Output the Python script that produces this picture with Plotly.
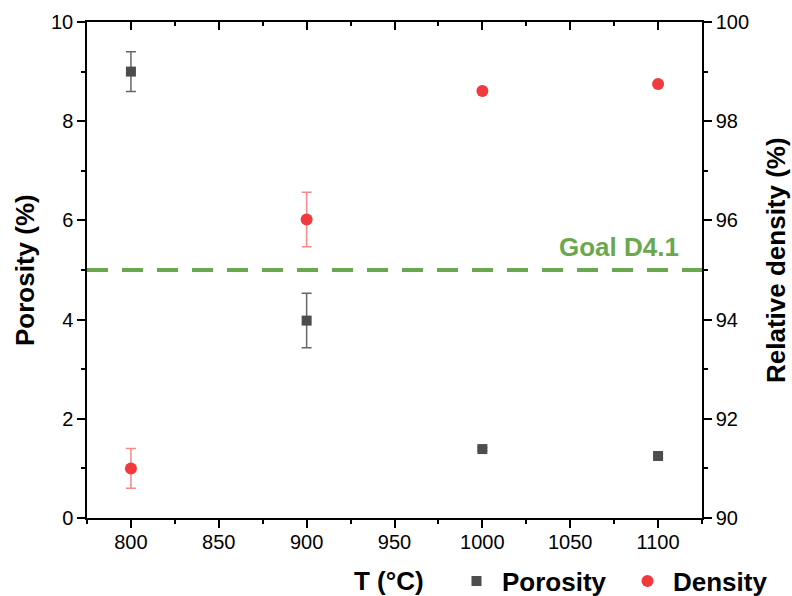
import plotly.graph_objects as go

# ---- data ----
temps = [800, 900, 1000, 1100]
porosity = [9.0, 3.98, 1.39, 1.25]
porosity_err = [0.4, 0.55, 0.03, 0.03]
density = [91.0, 96.02, 98.61, 98.75]
density_err = [0.4, 0.55, 0.03, 0.03]
goal_porosity = 5.0
goal_label = "Goal D4.1"

FONT = "Arial, Liberation Sans, sans-serif"
GREEN = "#6aa84f"
W, H = 792, 596

fig = go.Figure()

fig.add_trace(go.Scatter(
    x=temps, y=porosity, name="Porosity", mode="markers",
    marker=dict(symbol="square", size=10, color="#4d4d4d"),
    error_y=dict(type="data", array=porosity_err, color="#666666", thickness=1.5, width=5),
    yaxis="y", xaxis="x", legend="legend",
))
fig.add_trace(go.Scatter(
    x=temps, y=density, name="Density", mode="markers",
    marker=dict(symbol="circle", size=12, color="#f03a3d"),
    error_y=dict(type="data", array=density_err, color="#f58a8a", thickness=1.5, width=5),
    yaxis="y2", xaxis="x", legend="legend2",
))

axis_common = dict(showline=True, linecolor="black", linewidth=1.5, showgrid=False,
                   zeroline=False, tickcolor="black", tickwidth=1.5, automargin=False,
                   tickfont=dict(family=FONT, size=20, color="black"))

legend_common = dict(orientation="h", xref="container", yref="container", xanchor="left",
                     yanchor="middle", y=(H - 581) / H, itemwidth=41,
                     font=dict(family=FONT, size=26, color="black", weight="bold"),
                     bgcolor="rgba(0,0,0,0)", borderwidth=0)

fig.update_layout(
    width=W, height=H,
    margin=dict(l=87, r=90, t=22, b=78),
    paper_bgcolor="white", plot_bgcolor="white",
    font=dict(family=FONT, color="black"),
    xaxis=dict(range=[775, 1125], tickvals=[800, 850, 900, 950, 1000, 1050, 1100],
               ticks="outside", ticklen=8, ticklabelstandoff=-3,
               minor=dict(dtick=25, tick0=775, ticks="outside", ticklen=4, tickcolor="black", tickwidth=1.5),
               **axis_common),
    xaxis2=dict(range=[775, 1125], overlaying="x", side="top", showticklabels=False,
                tickvals=[800, 850, 900, 950, 1000, 1050, 1100], ticks="inside", ticklen=8,
                minor=dict(dtick=25, tick0=775, ticks="inside", ticklen=4, tickcolor="black", tickwidth=1.5),
                **axis_common),
    yaxis=dict(range=[0, 10], dtick=2, ticks="outside", ticklen=8,
               minor=dict(dtick=1, ticks="outside", ticklen=4, tickcolor="black", tickwidth=1.5),
               **axis_common),
    yaxis2=dict(range=[90, 100], dtick=2, overlaying="y", side="right", ticks="outside", ticklen=8,
                minor=dict(dtick=1, ticks="outside", ticklen=4, tickcolor="black", tickwidth=1.5),
                **axis_common),
    legend=dict(x=451 / W, **legend_common),
    legend2=dict(x=622 / W, **legend_common),
    showlegend=True,
)

# dummy trace to activate top axis
fig.add_trace(go.Scatter(x=[temps[0]], y=[porosity[0]], xaxis="x2", yaxis="y",
                         mode="markers", marker=dict(opacity=0), showlegend=False, hoverinfo="skip"))

fig.add_shape(type="line", xref="paper", x0=0, x1=1, yref="y", y0=goal_porosity, y1=goal_porosity,
              line=dict(color=GREEN, width=4, dash="21px,14px"))

fig.add_annotation(text=goal_label, xref="paper", x=1, xanchor="right", xshift=-21,
                   yref="y", y=goal_porosity, yanchor="middle", yshift=23, showarrow=False,
                   font=dict(family=FONT, size=26, color=GREEN, weight="bold"))

fig.add_annotation(text="Porosity (%)", xref="paper", x=0, xshift=-62, yref="paper", y=0.5,
                   textangle=-90, showarrow=False, xanchor="center", yanchor="middle",
                   font=dict(family=FONT, size=26, color="black", weight="bold"))
fig.add_annotation(text="Relative density (%)", xref="paper", x=1, xshift=74, yref="paper", y=0.5,
                   yshift=10, textangle=-90, showarrow=False, xanchor="center", yanchor="middle",
                   font=dict(family=FONT, size=26, color="black", weight="bold"))
fig.add_annotation(text="T (°C)", xref="paper", x=0.5, xshift=-6, yref="paper", y=0, yshift=-63,
                   showarrow=False, xanchor="center", yanchor="middle",
                   font=dict(family=FONT, size=26, color="black", weight="bold"))

fig.write_html("out.html", config={"displayModeBar": False},
               post_script="document.body.style.margin='0';document.body.style.overflow='hidden';")
